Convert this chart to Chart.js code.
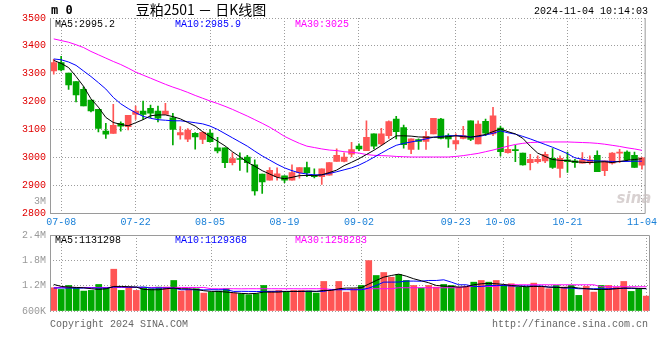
<!DOCTYPE html>
<html>
<head>
<meta charset="utf-8">
<script src="https://cdn.jsdelivr.net/npm/chart.js@4.4.1/dist/chart.umd.min.js"></script>
<style>
    html, body { margin: 0; padding: 0; background: #fff; }
    #wrap { position: relative; width: 660px; height: 360px; overflow: hidden; }
    #priceBox { position: absolute; left: 0; top: 0; width: 660px; height: 228px; }
    #volBox { position: absolute; left: 0; top: 225px; width: 660px; height: 135px; }
</style>
</head>
<body>
<div id="wrap">
    <div id="priceBox"><canvas id="priceChart"></canvas></div>
    <div id="volBox"><canvas id="volChart"></canvas></div>
</div>
<script>
// trading days shown (07-05 .. 11-04)
const DATES = [
    '07-05', '07-08', '07-09', '07-10', '07-11', '07-12', '07-15', '07-16', '07-17', '07-18', '07-19',
    '07-22', '07-23', '07-24', '07-25', '07-26', '07-29', '07-30', '07-31', '08-01', '08-02',
    '08-05', '08-06', '08-07', '08-08', '08-09', '08-12', '08-13', '08-14', '08-15', '08-16',
    '08-19', '08-20', '08-21', '08-22', '08-23', '08-26', '08-27', '08-28', '08-29', '08-30',
    '09-02', '09-03', '09-04', '09-05', '09-06', '09-09', '09-10', '09-11', '09-12', '09-13',
    '09-18', '09-19', '09-20', '09-23', '09-24', '09-25', '09-26', '09-27', '09-30',
    '10-08', '10-09', '10-10', '10-11', '10-14', '10-15', '10-16', '10-17', '10-18',
    '10-21', '10-22', '10-23', '10-24', '10-25', '10-28', '10-29', '10-30', '10-31', '11-01', '11-04'
];
const X_TICK_LABELS = ['07-08', '07-22', '08-05', '08-19', '09-02', '09-23', '10-08', '10-21', '11-04'];

const OPEN = [3310, 3340, 3302, 3272, 3244, 3205, 3172, 3094, 3086, 3122, 3110, 3154, 3166, 3176, 3166, 3154, 3142, 3080, 3065, 3086,
    3064, 3087, 3034, 3034, 2981, 2995, 3001, 2973, 2940, 2918, 2930, 2933, 2918, 2945, 2963, 2933, 2930, 2936, 2985, 2985,
    3011, 3040, 3024, 3084, 3048, 3078, 3137, 3107, 3028, 3064, 3057, 3084, 3137, 3078, 3048, 3068, 3131, 3048, 3129, 3084,
    3105, 3017, 3026, 3015, 2981, 2984, 2987, 2996, 2960, 2991, 2987, 2979, 2981, 3007, 2952, 2979, 3015, 3019, 3007, 2972];
const HIGH = [3352, 3362, 3302, 3272, 3253, 3205, 3172, 3122, 3190, 3127, 3151, 3184, 3202, 3187, 3184, 3194, 3158, 3110, 3103, 3089,
    3092, 3099, 3072, 3034, 3016, 3016, 3007, 2991, 2940, 2963, 2962, 2933, 2973, 2963, 2983, 2959, 2959, 2981, 3030, 3016,
    3054, 3048, 3131, 3084, 3104, 3131, 3147, 3116, 3066, 3066, 3092, 3140, 3140, 3084, 3084, 3111, 3131, 3131, 3137, 3179,
    3112, 3074, 3043, 3015, 3011, 3005, 3019, 3031, 3005, 3019, 2993, 3017, 3005, 3023, 2987, 3017, 3029, 3023, 3019, 2999];
const LOW = [3298, 3310, 3244, 3199, 3184, 3163, 3091, 3068, 3086, 3094, 3098, 3136, 3136, 3142, 3127, 3154, 3044, 3065, 3056, 3029,
    3049, 3054, 3016, 2963, 2973, 2953, 2947, 2864, 2870, 2918, 2918, 2909, 2918, 2925, 2930, 2926, 2903, 2936, 2985, 2983,
    3001, 3024, 3024, 3030, 3043, 3068, 3066, 3033, 3013, 3028, 3028, 3084, 3066, 3035, 3028, 3066, 3060, 3048, 3078, 3078,
    3005, 3015, 2984, 2972, 2955, 2979, 2981, 2960, 2928, 2946, 2964, 2979, 2975, 2948, 2934, 2975, 2981, 2987, 2964, 2957];
const CLOSE = [3340, 3314, 3260, 3224, 3184, 3166, 3104, 3083, 3115, 3112, 3151, 3166, 3154, 3158, 3140, 3166, 3100, 3089, 3098, 3073,
    3090, 3056, 3023, 2981, 2995, 2992, 2981, 2879, 2912, 2953, 2941, 2918, 2945, 2963, 2945, 2930, 2959, 2981, 3007, 3001,
    3028, 3030, 3072, 3040, 3084, 3128, 3092, 3045, 3066, 3057, 3075, 3140, 3068, 3066, 3060, 3078, 3064, 3119, 3087, 3149,
    3020, 3029, 3024, 2973, 2993, 2993, 3011, 2964, 2996, 2984, 2981, 2991, 2991, 2948, 2987, 3015, 3017, 2991, 2964, 2998];

const MA5 = [3348, 3337, 3322, 3290, 3255, 3210, 3180, 3143, 3125, 3118, 3113, 3124, 3135, 3149, 3152, 3152, 3146, 3138, 3125, 3112,
    3092, 3074, 3058, 3041, 3020, 3002, 2982, 2968, 2952, 2940, 2928, 2923, 2928, 2934, 2935, 2934, 2937, 2945, 2954, 2970,
    2982, 2995, 3010, 3025, 3042, 3060, 3077, 3077, 3076, 3073, 3072, 3072, 3072, 3074, 3077, 3074, 3072, 3077, 3082, 3092,
    3102, 3092, 3084, 3068, 3040, 3015, 3003, 2992, 2989, 2988, 2984, 2982, 2981, 2983, 2984, 2981, 2985, 2989, 2992, 2995];
const MA10 = [3353, 3350, 3342, 3330, 3310, 3290, 3268, 3245, 3215, 3192, 3175, 3160, 3147, 3140, 3135, 3133, 3131, 3131, 3128, 3124,
    3120, 3112, 3100, 3085, 3070, 3055, 3040, 3022, 3005, 2990, 2975, 2962, 2952, 2944, 2940, 2937, 2937, 2942, 2948, 2955,
    2962, 2972, 2985, 3000, 3015, 3030, 3043, 3050, 3055, 3060, 3066, 3072, 3075, 3077, 3078, 3077, 3073, 3074, 3080, 3086,
    3095, 3088, 3083, 3075, 3066, 3056, 3046, 3036, 3025, 3013, 2998, 2993, 2988, 2987, 2986, 2985, 2985, 2985, 2986, 2986];
const MA30 = [3425, 3419, 3413, 3404, 3394, 3380, 3368, 3356, 3344, 3333, 3320, 3306, 3295, 3284, 3273, 3262, 3252, 3243, 3233, 3222,
    3212, 3202, 3193, 3183, 3172, 3160, 3148, 3135, 3122, 3108, 3092, 3075, 3062, 3050, 3040, 3035, 3030, 3026, 3024, 3020,
    3018, 3015, 3010, 3007, 3006, 3005, 3003, 3002, 3001, 3001, 3001, 3001, 3001, 3001, 3003, 3006, 3010, 3014, 3020, 3026,
    3033, 3040, 3046, 3050, 3053, 3054, 3055, 3055, 3055, 3055, 3054, 3053, 3052, 3050, 3047, 3043, 3039, 3034, 3030, 3025];

const VOLUME = [1151000, 1111000, 1205000, 1151000, 1072000, 1088000, 1229000, 1151000, 1590000, 1088000,
    1166000, 1088000, 1166000, 1127000, 1166000, 1166000, 1323000, 1072000, 1111000, 1127000,
    1024000, 1048000, 1072000, 1127000, 1024000, 1009000, 986000, 1009000, 1205000, 1072000,
    1088000, 1048000, 1088000, 1088000, 1072000, 1024000, 1300000, 1088000, 1300000, 1048000,
    1127000, 1205000, 1794000, 1441000, 1512000, 1401000, 1465000, 1323000, 1205000, 1142000,
    1205000, 1165000, 1229000, 1205000, 1165000, 1165000, 1283000, 1323000, 1283000, 1323000,
    1205000, 1245000, 1165000, 1165000, 1260000, 1165000, 1128000, 1205000, 1165000, 1205000,
    970000, 1182000, 1048000, 1205000, 1205000, 1165000, 1300000, 1064000, 1128000, 953000];
const VOL_MA5 = [1229000, 1182000, 1166000, 1158000, 1151000, 1127000, 1111000, 1127000, 1182000, 1182000,
    1174000, 1166000, 1111000, 1103000, 1103000, 1127000, 1143000, 1127000, 1127000, 1111000,
    1080000, 1064000, 1064000, 1048000, 1033000, 1017000, 1009000, 1017000, 1048000, 1048000,
    1048000, 1064000, 1064000, 1064000, 1072000, 1064000, 1088000, 1088000, 1127000, 1143000,
    1143000, 1151000, 1237000, 1323000, 1402000, 1441000, 1472000, 1425000, 1363000, 1316000,
    1268000, 1205000, 1190000, 1182000, 1166000, 1174000, 1221000, 1245000, 1253000, 1245000,
    1229000, 1205000, 1190000, 1174000, 1182000, 1182000, 1166000, 1158000, 1158000, 1166000,
    1143000, 1127000, 1111000, 1111000, 1111000, 1127000, 1143000, 1143000, 1135000, 1131000];
const VOL_MA10 = [1143000, 1145000, 1143000, 1141000, 1143000, 1145000, 1143000, 1143000, 1166000, 1168000,
    1166000, 1164000, 1166000, 1143000, 1145000, 1143000, 1141000, 1103000, 1105000, 1103000,
    1101000, 1103000, 1103000, 1103000, 1064000, 1066000, 1064000, 1062000, 1064000, 1064000,
    1066000, 1064000, 1062000, 1064000, 1064000, 1066000, 1064000, 1103000, 1103000, 1105000,
    1103000, 1103000, 1143000, 1205000, 1284000, 1284000, 1286000, 1308000, 1308000, 1306000,
    1323000, 1323000, 1339000, 1284000, 1221000, 1221000, 1182000, 1182000, 1205000, 1205000,
    1205000, 1190000, 1190000, 1192000, 1190000, 1190000, 1166000, 1166000, 1143000, 1143000,
    1127000, 1127000, 1127000, 1127000, 1127000, 1135000, 1135000, 1133000, 1131000, 1129000];
const VOL_MA30 = [1158000, 1158000, 1160000, 1158000, 1158000, 1156000, 1158000, 1158000, 1160000, 1158000,
    1158000, 1158000, 1156000, 1158000, 1158000, 1158000, 1160000, 1158000, 1158000, 1158000,
    1158000, 1127000, 1127000, 1127000, 1127000, 1125000, 1127000, 1127000, 1127000, 1127000,
    1127000, 1127000, 1127000, 1125000, 1127000, 1127000, 1127000, 1111000, 1111000, 1111000,
    1111000, 1111000, 1127000, 1127000, 1127000, 1127000, 1151000, 1151000, 1151000, 1151000,
    1151000, 1151000, 1151000, 1151000, 1151000, 1182000, 1182000, 1182000, 1182000, 1182000,
    1221000, 1221000, 1221000, 1221000, 1221000, 1221000, 1221000, 1221000, 1221000, 1221000,
    1221000, 1221000, 1221000, 1174000, 1174000, 1174000, 1174000, 1174000, 1174000, 1174000];

const PRICE_TICKS = [2800, 2900, 3000, 3100, 3200, 3300, 3400, 3500];
const VOL_TICKS = [600000, 1200000, 1800000, 2400000];
const VOL_TICK_LABELS = ['600K', '1.2M', '1.8M', '2.4M'];

const TITLE = '豆粕2501 － 日K线图';
const STAMP = '2024-11-04 10:14:03';
const PRICE_MA_TEXT = ['MA5:2995.2', 'MA10:2985.9', 'MA30:3025'];
const VOL_MA_TEXT = ['MA5:1131298', 'MA10:1129368', 'MA30:1258283'];

const RED = '#ff5555';
const GREEN = '#00a800';
const MA_COLORS = ['#000000', '#0000ff', '#ff00ff'];
const GRID = '#9c9c9c';
const FRAME = '#9a9a9a';
const MONO = '"Liberation Mono", "DejaVu Sans Mono", monospace';

const candleColors = CLOSE.map((c, i) => (c >= OPEN[i] ? RED : GREEN));

// only keep gridlines where a date label is printed
function keepLabeledTicks(scale) {
    scale.ticks = scale.ticks.filter(t => X_TICK_LABELS.includes(DATES[t.value]));
}

function maLine(data, color) {
    return {
        type: 'line',
        data: data,
        borderColor: color,
        borderWidth: 1,
        pointRadius: 0,
        tension: 0,
        order: 0
    };
}

function drawMaText(ctx, texts, y) {
    ctx.font = '10px ' + MONO;
    ctx.textBaseline = 'middle';
    ctx.textAlign = 'left';
    const xs = [55, 175, 295];
    texts.forEach((t, i) => {
        ctx.fillStyle = MA_COLORS[i];
        ctx.fillText(t, xs[i], y);
    });
}

const pricePanel = {
    id: 'pricePanel',
    afterDraw(chart) {
        const { ctx, chartArea: a } = chart;
        ctx.save();
        ctx.strokeStyle = FRAME;
        ctx.lineWidth = 1;
        ctx.beginPath();
        ctx.moveTo(a.left + 0.5, a.top);
        ctx.lineTo(a.left + 0.5, a.bottom + 0.5);
        ctx.lineTo(a.right - 0.5, a.bottom + 0.5);
        ctx.lineTo(a.right - 0.5, a.top);
        ctx.stroke();

        ctx.fillStyle = '#000';
        ctx.textBaseline = 'middle';
        ctx.font = 'bold 12px "DejaVu Sans Mono", monospace';
        ctx.textAlign = 'left';
        ctx.fillText('m 0', 51, 11);

        ctx.font = '14px "Noto Sans CJK SC", sans-serif';
        ctx.textAlign = 'center';
        ctx.fillText(TITLE, 201, 10);

        ctx.font = '10px ' + MONO;
        ctx.textAlign = 'right';
        ctx.fillText(STAMP, 648, 11);

        drawMaText(ctx, PRICE_MA_TEXT, 24);

        ctx.fillStyle = '#999';
        ctx.textAlign = 'right';
        ctx.fillText('3M', 46, 201);

        // faint sina watermark
        ctx.fillStyle = 'rgba(200, 190, 190, 0.7)';
        ctx.font = 'italic bold 15px "DejaVu Sans", sans-serif';
        ctx.textAlign = 'center';
        ctx.fillText('sina', 634, 199);
        ctx.restore();
    }
};

const volPanel = {
    id: 'volPanel',
    afterDraw(chart) {
        const { ctx, chartArea: a } = chart;
        ctx.save();
        ctx.strokeStyle = FRAME;
        ctx.lineWidth = 1;
        ctx.beginPath();
        ctx.moveTo(a.left + 0.5, a.bottom);
        ctx.lineTo(a.left + 0.5, a.top + 0.5);
        ctx.lineTo(a.right - 0.5, a.top + 0.5);
        ctx.lineTo(a.right - 0.5, a.bottom);
        ctx.stroke();

        drawMaText(ctx, VOL_MA_TEXT, a.top + 5);

        ctx.fillStyle = '#666';
        ctx.font = '10px ' + MONO;
        ctx.textBaseline = 'middle';
        ctx.textAlign = 'left';
        ctx.fillText('Copyright 2024 SINA.COM', 50, a.bottom + 13);
        ctx.textAlign = 'right';
        ctx.fillText('http://finance.sina.com.cn', 648, a.bottom + 13);
        ctx.restore();
    }
};

const xGrid = { offset: false, color: GRID, drawTicks: false, borderDash: [1, 2] };
const gridBorder = { display: false, dash: [1, 2] };

new Chart(document.getElementById('priceChart'), {
    type: 'bar',
    data: {
        labels: DATES,
        datasets: [
            {
                data: LOW.map((l, i) => [l, HIGH[i]]),
                backgroundColor: candleColors,
                barThickness: 1,
                grouped: false,
                order: 2
            },
            {
                data: OPEN.map((o, i) => [o, CLOSE[i]]),
                backgroundColor: candleColors,
                barThickness: 6,
                minBarLength: 1,
                grouped: false,
                order: 1
            },
            maLine(MA5, MA_COLORS[0]),
            maLine(MA10, MA_COLORS[1]),
            maLine(MA30, MA_COLORS[2])
        ]
    },
    options: {
        responsive: true,
        maintainAspectRatio: false,
        animation: false,
        devicePixelRatio: 1,
        layout: { padding: { top: 18, right: 10, left: 0, bottom: 0 } },
        plugins: { legend: { display: false }, tooltip: { enabled: false } },
        scales: {
            x: {
                offset: true,
                grid: xGrid,
                border: gridBorder,
                afterBuildTicks: keepLabeledTicks,
                afterFit: scale => { scale.height = 15; },
                ticks: {
                    autoSkip: false,
                    maxRotation: 0,
                    padding: 3,
                    color: '#1a80d8',
                    font: { family: MONO, size: 10 },
                    callback: function (val) { return this.getLabelForValue(val); }
                }
            },
            y: {
                min: 2800,
                max: 3500,
                grid: { color: GRID, drawTicks: false, borderDash: [1, 2] },
                border: gridBorder,
                afterBuildTicks: scale => { scale.ticks = PRICE_TICKS.map(v => ({ value: v })); },
                afterFit: scale => { scale.width = 50; },
                ticks: {
                    padding: 4,
                    color: '#e00000',
                    font: { family: MONO, size: 10 },
                    callback: (val) => String(val)
                }
            }
        }
    },
    plugins: [pricePanel]
});

new Chart(document.getElementById('volChart'), {
    type: 'bar',
    data: {
        labels: DATES,
        datasets: [
            {
                data: VOLUME,
                backgroundColor: candleColors,
                barThickness: 6,
                base: VOL_TICKS[0],
                order: 1
            },
            maLine(VOL_MA5, MA_COLORS[0]),
            maLine(VOL_MA10, MA_COLORS[1]),
            maLine(VOL_MA30, MA_COLORS[2])
        ]
    },
    options: {
        responsive: true,
        maintainAspectRatio: false,
        animation: false,
        devicePixelRatio: 1,
        layout: { padding: { top: 9, right: 10, left: 0, bottom: 49 } },
        plugins: { legend: { display: false }, tooltip: { enabled: false } },
        scales: {
            x: {
                offset: true,
                grid: xGrid,
                border: gridBorder,
                afterBuildTicks: keepLabeledTicks,
                afterFit: scale => { scale.height = 0; },
                ticks: { display: false, autoSkip: false }
            },
            y: {
                min: VOL_TICKS[0],
                max: VOL_TICKS[VOL_TICKS.length - 1],
                grid: { color: GRID, drawTicks: false, borderDash: [1, 2] },
                border: gridBorder,
                afterBuildTicks: scale => { scale.ticks = VOL_TICKS.map(v => ({ value: v })); },
                afterFit: scale => { scale.width = 50; },
                ticks: {
                    padding: 4,
                    color: '#999',
                    font: { family: MONO, size: 10 },
                    callback: (val) => VOL_TICK_LABELS[VOL_TICKS.indexOf(val)]
                }
            }
        }
    },
    plugins: [volPanel]
});
</script>
</body>
</html>
